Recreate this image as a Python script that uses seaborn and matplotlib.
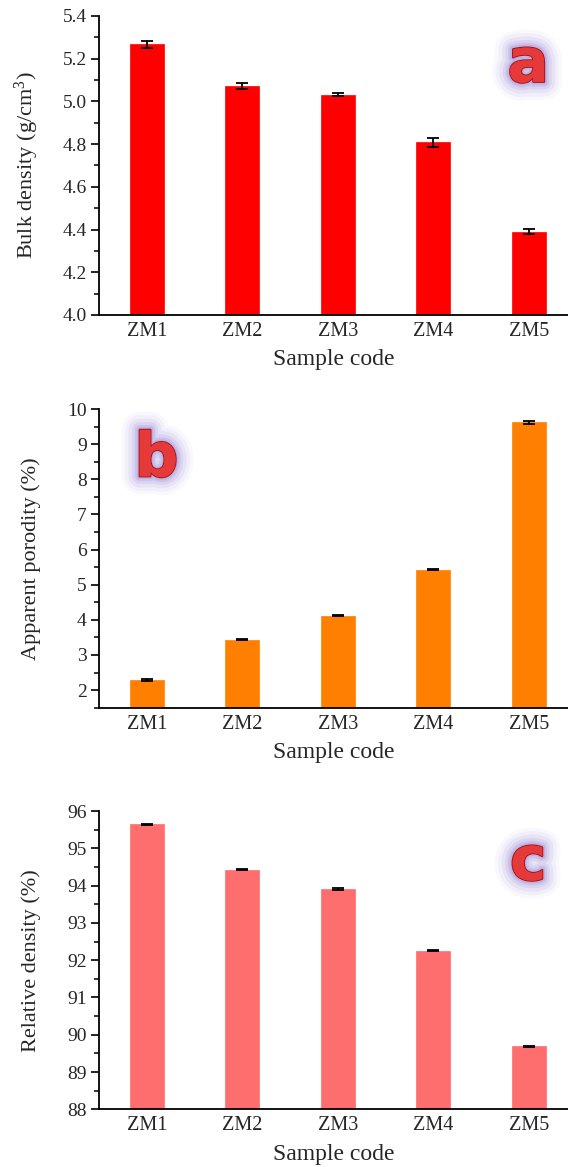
import matplotlib
matplotlib.use("Agg")
import matplotlib.pyplot as plt
import matplotlib.patheffects as pe
from matplotlib.ticker import MultipleLocator, AutoMinorLocator
import seaborn as sns
import pandas as pd

samples = ["ZM1", "ZM2", "ZM3", "ZM4", "ZM5"]
bulk_density = [5.267, 5.071, 5.031, 4.808, 4.390]
bulk_err = [0.017, 0.013, 0.007, 0.020, 0.011]
porosity = [2.28, 3.43, 4.11, 5.43, 9.62]
porosity_err = [0.03, 0.015, 0.015, 0.015, 0.045]
rel_density = [95.64, 94.43, 93.91, 92.26, 89.69]
rel_err = [0.02, 0.02, 0.02, 0.02, 0.02]

sns.set_theme(style="ticks")
plt.rcParams['font.family'] = ['Liberation Serif', 'DejaVu Serif']
plt.rcParams['mathtext.fontset'] = 'custom'
plt.rcParams['mathtext.rm'] = 'Liberation Serif'
plt.rcParams['mathtext.it'] = 'Liberation Serif:italic'

fig = plt.figure(figsize=(5.68, 11.67), dpi=100)

panels = [
    dict(vals=bulk_density, err=bulk_err, color="#FF0000", ylim=(4.0, 5.4), major=0.2,
         fmt="{:.1f}", ylabel="Bulk density (g/cm$^{3}$)", rect=[0.1748, 0.7301, 0.8252, 0.2562],
         letter="a", lpos=(0.915, 0.835)),
    dict(vals=porosity, err=porosity_err, color="#FF8000", ylim=(1.5, 10.0), major=1,
         fmt="{:.0f}", ylabel="Apparent porodity (%)", rect=[0.1748, 0.3936, 0.8252, 0.2559],
         letter="b", lpos=(0.122, 0.83)),
    dict(vals=rel_density, err=rel_err, color="#FF6E6E", ylim=(88, 96), major=1,
         fmt="{:.0f}", ylabel="Relative density (%)", rect=[0.1748, 0.0494, 0.8252, 0.2556],
         letter="c", lpos=(0.915, 0.825)),
]

for p in panels:
    ax = fig.add_axes(p["rect"])
    df = pd.DataFrame({"Sample": samples, "Value": p["vals"]})
    sns.barplot(data=df, x="Sample", y="Value", color=p["color"], width=0.356,
                saturation=1, errorbar=None, ax=ax, edgecolor=p["color"], linewidth=0.5)
    ax.errorbar(x=range(len(samples)), y=p["vals"], yerr=p["err"], fmt="none",
                ecolor="black", elinewidth=1.3, capsize=4.5, capthick=1.3, zorder=5)
    ax.set_xlim(-0.50, 4.41)
    ax.set_ylim(*p["ylim"])
    ax.yaxis.set_major_locator(MultipleLocator(p["major"]))
    ax.yaxis.set_minor_locator(AutoMinorLocator(2))
    ax.yaxis.set_major_formatter(matplotlib.ticker.FuncFormatter(lambda v, _, f=p["fmt"]: f.format(v)))
    ax.tick_params(axis="y", which="major", length=6, width=1.2, direction="out",
                   labelsize=14, pad=3, color="black")
    ax.tick_params(axis="y", which="minor", length=3.5, width=1.1, direction="out", color="black")
    ax.tick_params(axis="x", length=0, labelsize=14.5, pad=5)
    for s in ["top", "right"]:
        ax.spines[s].set_visible(False)
    for s in ["left", "bottom"]:
        ax.spines[s].set_color("black")
        ax.spines[s].set_linewidth(1.3)
    ax.set_xlabel("Sample code", fontsize=17, labelpad=6)
    ax.set_ylabel(p["ylabel"], fontsize=16)
    ax.yaxis.set_label_coords(-0.125, 0.5)
    effects = [pe.withStroke(linewidth=w, foreground="#9a8ad8", alpha=a)
               for w, a in [(26, 0.06), (21, 0.08), (16, 0.11), (11, 0.16), (7, 0.22), (4, 0.3)]]
    effects += [pe.withStroke(linewidth=1.6, foreground="#a81818"), pe.Normal()]
    ax.text(p["lpos"][0], p["lpos"][1], p["letter"], transform=ax.transAxes,
            fontsize=44, fontweight="bold", family="DejaVu Sans", color="#E63A3A",
            ha="center", va="center", path_effects=effects, zorder=10)

fig.savefig("out.png", dpi=100)
